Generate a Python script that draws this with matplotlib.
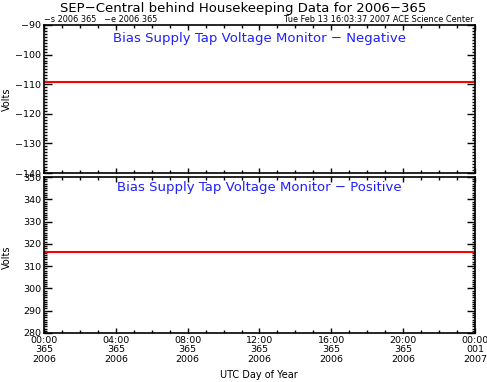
import matplotlib
matplotlib.use("Agg")
import matplotlib.pyplot as plt
from matplotlib.ticker import MultipleLocator

plt.rcParams['font.family'] = ['DejaVu Sans']

# hours since 2006-365 00:00
hours = [0.0, 2.0, 4.0, 6.0, 8.0, 10.0, 12.0, 14.0, 16.0, 18.0, 20.0, 22.0, 24.0]
neg_volts = [-109.1] * len(hours)
pos_volts = [316.5] * len(hours)

tick_hours = [0, 4, 8, 12, 16, 20, 24]
tick_labels = ["00:00\n365\n2006", "04:00\n365\n2006", "08:00\n365\n2006",
               "12:00\n365\n2006", "16:00\n365\n2006", "20:00\n365\n2006",
               "00:00\n001\n2007"]

fig = plt.figure(figsize=(4.87, 3.82), dpi=100)
ax1 = fig.add_axes([0.0903, 0.547, 0.8850, 0.3876])
ax2 = fig.add_axes([0.0903, 0.1283, 0.8850, 0.4083])


def style(ax, ylo, yhi, ymaj):
    ax.set_xlim(0, 24)
    ax.set_ylim(ylo, yhi)
    ax.xaxis.set_major_locator(MultipleLocator(4))
    ax.xaxis.set_minor_locator(MultipleLocator(1))
    ax.yaxis.set_major_locator(MultipleLocator(ymaj))
    ax.yaxis.set_minor_locator(MultipleLocator(1))
    ax.tick_params(which='both', direction='in', top=True, right=True,
                   width=1, labelsize=6.8, pad=2)
    ax.tick_params(axis='y', which='major', length=6)
    ax.tick_params(axis='y', which='minor', length=2.5)
    ax.tick_params(axis='x', which='major', length=3.5)
    ax.tick_params(axis='x', which='minor', length=2)
    for s in ax.spines.values():
        s.set_linewidth(1.2)


ax1.plot(hours, neg_volts, color='red', lw=1.5)
style(ax1, -140, -90, 10)
ax1.set_xticks(tick_hours)
ax1.set_xticklabels([])
ax1.text(0.5, 0.912, "Bias Supply Tap Voltage Monitor \u2212 Negative",
         transform=ax1.transAxes, ha='center', va='center', color='#2020ff',
         fontsize=9.5)

ax2.plot(hours, pos_volts, color='red', lw=1.5)
style(ax2, 280, 350, 10)
ax2.set_xticks(tick_hours)
ax2.set_xticklabels(tick_labels, fontsize=6.8, linespacing=1.1)
ax2.text(0.5, 0.936, "Bias Supply Tap Voltage Monitor \u2212 Positive",
         transform=ax2.transAxes, ha='center', va='center', color='#2020ff',
         fontsize=9.5)

fig.text(0.014, 0.74, "Volts", rotation=90, ha='center', va='center', fontsize=7)
fig.text(0.014, 0.327, "Volts", rotation=90, ha='center', va='center', fontsize=7)
fig.text(0.532, 0.018, "UTC Day of Year", ha='center', va='center', fontsize=7)

fig.text(0.500, 0.978, "SEP\u2212Central behind Housekeeping Data for 2006\u2212365",
         ha='center', va='center', fontsize=9.5)
fig.text(0.091, 0.948, "\u2212s 2006 365   \u2212e 2006 365", ha='left',
         va='center', fontsize=5.9)
fig.text(0.972, 0.948, "Tue Feb 13 16:03:37 2007 ACE Science Center",
         ha='right', va='center', fontsize=5.9)

fig.savefig("out.png", dpi=100)
